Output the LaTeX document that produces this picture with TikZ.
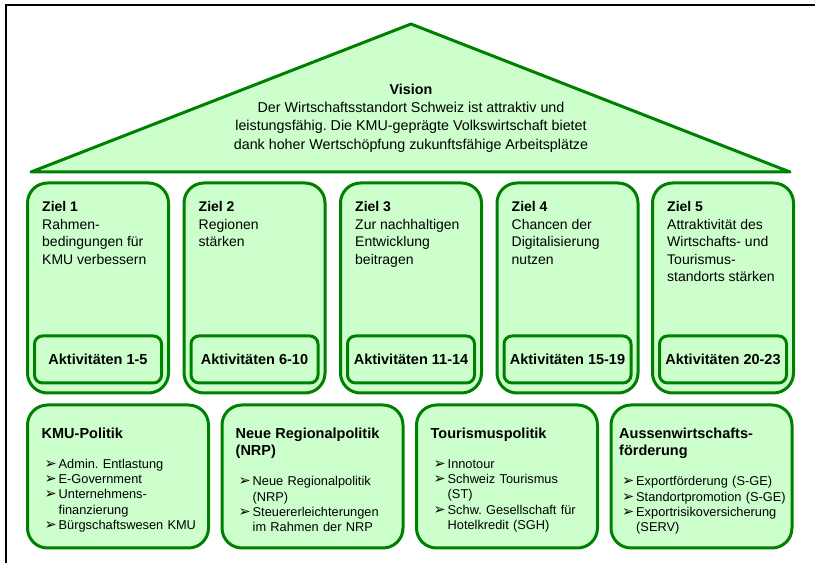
\documentclass[tikz,border=0pt]{standalone}
\usepackage{fontspec}
\setmainfont{Liberation Sans}
\newfontfamily\arrowfont{DejaVu Sans}
\frenchspacing
\definecolor{roofgreen}{RGB}{0,128,0}
\definecolor{paleleaf}{RGB}{204,255,204}
\newcommand{\policyhead}[1]{{\fontsize{14.5}{17.5}\selectfont\bfseries #1\par}\vspace{14.7pt}}
\newcommand{\bitem}[1]{\par\hangindent=17pt\hangafter=1\noindent\hspace*{3pt}\makebox[14pt][l]{\arrowfont\fontsize{14.5}{12}\selectfont ➢}#1}

\begin{document}
\begin{tikzpicture}[x=1pt,y=1pt]
  \tikzset{goal/.style = {shape=rectangle, draw=roofgreen, fill=paleleaf, line width=3pt, rounded corners=20pt, minimum width=141pt, minimum height=210pt}}
  \tikzset{activity/.style = {shape=rectangle, draw=roofgreen, fill=paleleaf, line width=3pt, rounded corners=8pt, minimum width=127pt, minimum height=47pt, inner sep=0pt, font=\fontsize{14.5}{17}\selectfont\bfseries}}
  \tikzset{policy/.style = {shape=rectangle, draw=roofgreen, fill=paleleaf, line width=3pt, rounded corners=20pt, minimum width=181pt, minimum height=143pt}}
  \tikzset{goaltext/.style = {anchor=north west, inner sep=0pt, align=left, font=\fontsize{14}{17.5}\selectfont}}
  \tikzset{policytext/.style = {anchor=north west, inner sep=0pt, text width=175pt, align=left, font=\fontsize{12.8}{15.3}\selectfont}}

  \useasboundingbox (0,0) rectangle (815,563);
  \draw[line width=2pt] (6,0) -- (6,557.5) -- (815,557.5);

  % roof
  \draw[draw=roofgreen, fill=paleleaf, line width=3pt, line join=round] (31,391) -- (411,539) -- (790,391) -- cycle;
  \node[align=center, inner sep=0pt, font=\fontsize{14.3}{18.3}\selectfont] (vision) at (411,445)
    {\textbf{Vision}\\Der Wirtschaftsstandort Schweiz ist attraktiv und\\leistungsfähig. Die KMU-geprägte Volkswirtschaft bietet\\dank hoher Wertschöpfung zukunftsfähige Arbeitsplätze};

  % goals
  \foreach \i/\x/\act in {1/98/1-5, 2/254.5/6-10, 3/411/11-14, 4/567.5/15-19, 5/723/20-23}
  {
    \node[goal] (z\i) at (\x,275) {};
    \node[activity, anchor=south] (a\i) at ([yshift=10pt]z\i.south) {Aktivitäten \act};
  }
  \node[goaltext] (z1t) at ([shift={(16,-20)}]z1.north west) {\textbf{Ziel 1}\\Rahmen-\\bedingungen für\\KMU verbessern};
  \node[goaltext] (z2t) at ([shift={(16,-20)}]z2.north west) {\textbf{Ziel 2}\\Regionen\\stärken};
  \node[goaltext] (z3t) at ([shift={(16,-20)}]z3.north west) {\textbf{Ziel 3}\\Zur nachhaltigen\\Entwicklung\\beitragen};
  \node[goaltext] (z4t) at ([shift={(16,-20)}]z4.north west) {\textbf{Ziel 4}\\Chancen der\\Digitalisierung\\nutzen};
  \node[goaltext] (z5t) at ([shift={(16,-20)}]z5.north west) {\textbf{Ziel 5}\\Attraktivität des\\Wirtschafts- und\\Tourismus-\\standorts stärken};

  % policies
  \node[policy] (kmu) at (118,86.5) {};
  \node[policy] (nrp) at (312.5,86.5) {};
  \node[policy] (tour) at (507,86.5) {};
  \node[policy] (aussen) at (701.5,86.5) {};

  \node[policytext] (kmut) at ([shift={(15.5,-24)}]kmu.north west)
    {\policyhead{KMU-Politik}\bitem{Admin. Entlastung}\bitem{E-Government}\bitem{Unternehmens-\newline finanzierung}\bitem{Bürgschaftswesen KMU}\par};
  \node[policytext] (nrpt) at ([shift={(15,-24)}]nrp.north west)
    {\policyhead{Neue Regionalpolitik\newline (NRP)}\bitem{Neue Regionalpolitik\newline (NRP)}\bitem{Steuererleichterungen\newline im Rahmen der NRP}\par};
  \node[policytext] (tourt) at ([shift={(15.5,-24)}]tour.north west)
    {\policyhead{Tourismuspolitik}\bitem{Innotour}\bitem{Schweiz Tourismus\newline (ST)}\bitem{Schw. Gesellschaft für\newline Hotelkredit (SGH)}\par};
  \node[policytext] (aussent) at ([shift={(9.5,-24)}]aussen.north west)
    {\policyhead{Aussenwirtschafts-\newline förderung}\bitem{Exportförderung (S-GE)}\bitem{Standortpromotion (S-GE)}\bitem{Exportrisikoversicherung\newline (SERV)}\par};
\end{tikzpicture}
\end{document}
